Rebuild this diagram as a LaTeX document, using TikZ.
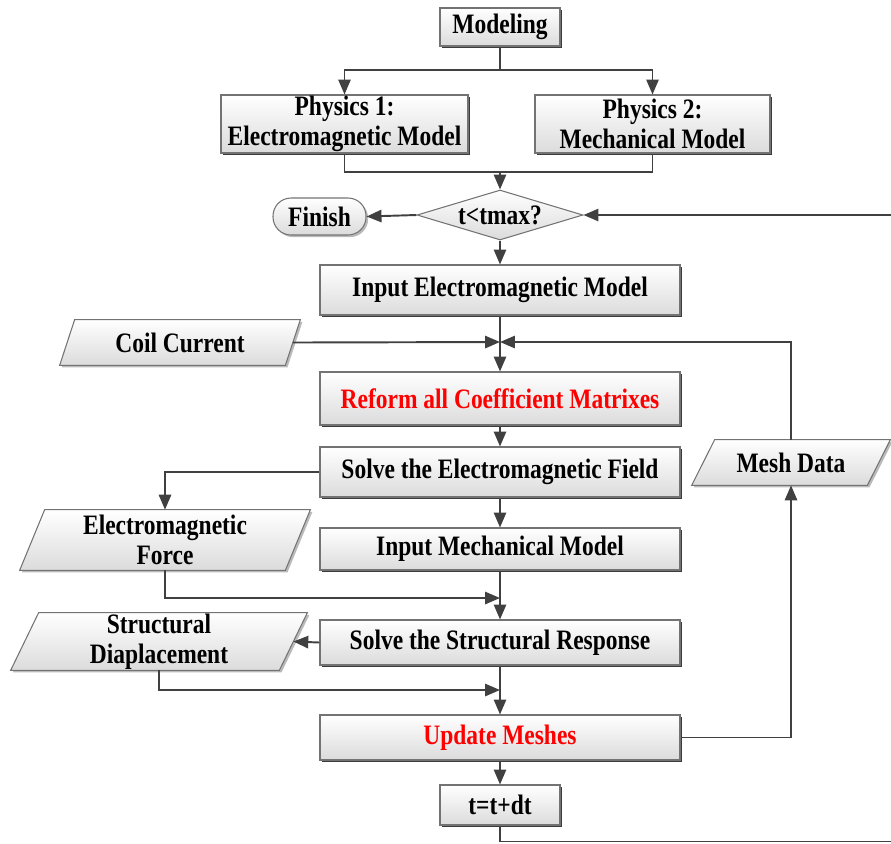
\documentclass[tikz,border=0pt]{standalone}
\usepackage{fontspec}
\setmainfont{Liberation Serif}[FakeStretch=0.835]
\usetikzlibrary{shapes.geometric,shadows,arrows.meta,calc}
\newdimen\pxu \pxu=0.02cm
\tikzset{
  base/.style={font=\fontsize{16}{16.8}\selectfont\bfseries, align=center, inner sep=0pt, text=black},
  sz/.style 2 args={minimum width={#1*\pxu}, minimum height={#2*\pxu}},
  shd/.style={draw=black!55, line width=0.6pt, top color=white, bottom color=black!14},
  box/.style={base, rectangle, shd, drop shadow={shadow xshift=1.4pt, shadow yshift=-1.4pt, fill=black!85, opacity=0.9}},
  pbox/.style={shd, drop shadow={shadow xshift=1.2pt, shadow yshift=-1.2pt, fill=black!45, opacity=0.6}},
  frame/.style={rectangle, inner sep=0pt},
  line/.style={draw=black!75, line width=1.1pt},
  arr/.style={line, -{Triangle[length=8.5pt,width=7pt]}},
  redtext/.style={text=red}
}
\newcommand\paral[2]{%
  \path[pbox] ($(#1.north west)+(#2/2,0)$) -- ($(#1.north east)+(#2/2,0)$)
    -- ($(#1.south east)-(#2/2,0)$) -- ($(#1.south west)-(#2/2,0)$) -- cycle;}
\begin{document}
\begin{tikzpicture}[x=0.02cm, y=-0.02cm]
\useasboundingbox (0,0) rectangle (891,843);
% process boxes
\node[box, sz={120}{38}] (mod) at (500,27) {Modeling};
\node[box, sz={247}{58}] (p1) at (344.5,124) {Physics 1:\\Electromagnetic Model};
\node[box, sz={235}{58}] (p2) at (652.5,124) {Physics 2:\\Mechanical Model};
\node[base, diamond, shd, aspect=3.3, sz={166}{50}] (dia) at (500,215) {t<tmax?};
\node[base, rectangle, shd, rounded corners=0.36cm, sz={93}{37},
      drop shadow={shadow xshift=1.2pt, shadow yshift=-1.2pt, fill=black!45, opacity=0.6}] (fin) at (319.5,216.5) {Finish};
\node[box, sz={360}{50}] (inem) at (500,290) {Input Electromagnetic Model};
\node[box, redtext, sz={360}{53}] (reform) at (500,398.5) {Reform all Coefficient Matrixes};
\node[box, sz={360}{50}] (solveem) at (500,472) {Solve the Electromagnetic Field};
\node[box, sz={360}{42}] (inmech) at (500,549) {Input Mechanical Model};
\node[box, sz={360}{45}] (solvest) at (500,642.5) {Solve the Structural Response};
\node[box, redtext, sz={360}{45}] (upd) at (500,737.5) {Update Meshes};
\node[box, sz={120}{40}] (tdt) at (500,805) {t=t+dt};
% data (parallelogram) frames
\node[frame, sz={225}{45}] (cc) at (180,342.5) {};
\node[frame, sz={265}{60}] (emf) at (165,540) {};
\node[frame, sz={268}{57}] (sd) at (159,641.5) {};
\node[frame, sz={175}{45}] (mesh) at (791,462.5) {};
\paral{cc}{15}
\paral{emf}{25}
\paral{sd}{28}
\paral{mesh}{23}
\node[base] (cct) at (cc) {Coil Current};
\node[base] (emft) at (emf) {Electromagnetic\\Force};
\node[base] (sdt) at (sd) {Structural\\Diaplacement};
\node[base] (mesht) at (mesh) {Mesh Data};
% junctions
\coordinate (j1) at (500,70);
\coordinate (j2) at (500,172);
\coordinate (j3) at (500,342);
\coordinate (j4) at (500,598);
\coordinate (j5) at (500,690);
\coordinate (c1) at (500,841.5);
\coordinate (c2) at (893,841.5);
\coordinate (c3) at (893,215);
% connectors
\draw[line] (mod.south) -- (j1);
\draw[arr] (j1) -| (p1.north);
\draw[arr] (j1) -| (p2.north);
\draw[line] (p1.south) |- (j2) -| (p2.south);
\draw[arr] (j2) -- (dia.north);
\draw[arr] (dia.west) -- (fin.east);
\draw[arr] (dia.south) -- (inem.north);
\draw[line] (inem.south) -- (j3);
\draw[arr] (j3) -- (reform.north);
\draw[arr] (cc.east) -- (j3);
\draw[arr] (mesh.north) |- (j3);
\draw[arr] (reform.south) -- (solveem.north);
\draw[arr] (solveem.west) -| (emf.north);
\draw[arr] (solveem.south) -- (inmech.north);
\draw[arr] (emf.south) |- (j4);
\draw[line] (inmech.south) -- (j4);
\draw[arr] (j4) -- (solvest.north);
\draw[arr] (solvest.west) -- (sd.east);
\draw[arr] (sd.south) |- (j5);
\draw[line] (solvest.south) -- (j5);
\draw[arr] (j5) -- (upd.north);
\draw[arr] (upd.east) -| (mesh.south);
\draw[arr] (upd.south) -- (tdt.north);
\draw[arr] (tdt.south) -- (c1) -- (c2) -- (c3) -- (dia.east);
\end{tikzpicture}
\end{document}
